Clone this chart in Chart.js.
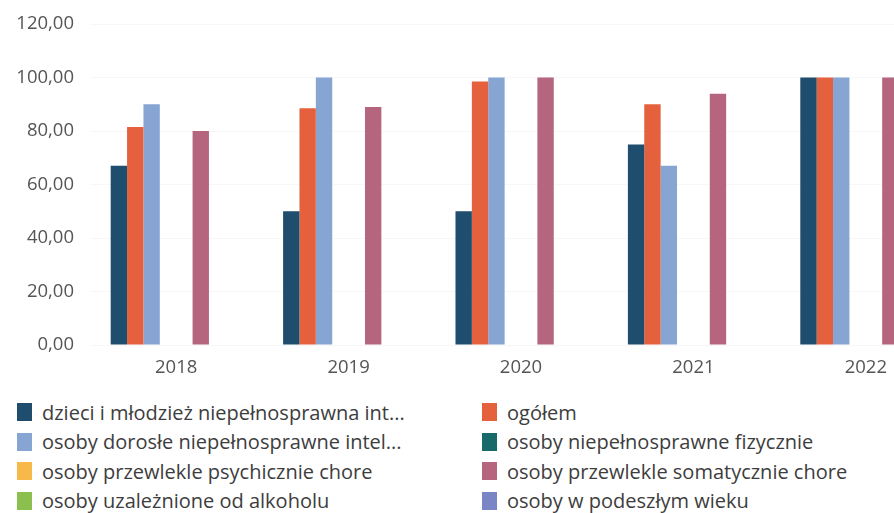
<!DOCTYPE html>
<html>
<head>
<meta charset="utf-8">
<script src="https://cdn.jsdelivr.net/npm/chart.js@4"></script>
<style>
  html, body { margin: 0; padding: 0; background: #fff; overflow: hidden; }
  body { width: 894px; height: 513px; position: relative; font-family: 'Open Sans', sans-serif; }
  #wrap { position: absolute; left: 0; top: -3px; width: 952px; height: 388px; }
  #legend { position: absolute; left: 17px; top: 398px; width: 880px; }
  .item { position: absolute; display: flex; align-items: center; font-size: 20px; color: #3d3d3d; white-space: nowrap; height: 28px; }
  .sw { width: 15px; height: 18px; margin-right: 10px; }
</style>
</head>
<body>
<div id="wrap"><canvas id="myChart"></canvas></div>
<div id="legend"></div>
<script>
const years = ['2018', '2019', '2020', '2021', '2022'];
const seriesNames = [
    'dzieci i młodzież niepełnosprawna int...',
    'ogółem',
    'osoby dorosłe niepełnosprawne intel...',
    'osoby niepełnosprawne fizycznie',
    'osoby przewlekle psychicznie chore',
    'osoby przewlekle somatycznie chore',
    'osoby uzależnione od alkoholu',
    'osoby w podeszłym wieku'
];
const dzieci = [67, 50, 50, 75, 100];
const ogolem = [81.5, 88.5, 98.5, 90, 100];
const dorosle = [90, 100, 100, 67, 100];
const fizycznie = [0, 0, 0, 0, 0];
const psychicznie = [0, 0, 0, 0, 0];
const somatycznie = [80, 89, 100, 94, 100];
const alkohol = [0, 0, 0, 0, 0];
const wiek = [0, 0, 0, 0, 0];
const yTicks = [0, 20, 40, 60, 80, 100, 120];

const colors = ['#1f4d6d', '#e5603d', '#87a5d3', '#17696a', '#f6b94a', '#b6657f', '#8cc04e', '#7a85c6'];
const values = [dzieci, ogolem, dorosle, fizycznie, psychicznie, somatycznie, alkohol, wiek];

const ctx = document.getElementById('myChart').getContext('2d');
const myChart = new Chart(ctx, {
    type: 'bar',
    data: {
        labels: years,
        datasets: seriesNames.map((name, i) => ({
            label: name,
            data: values[i],
            backgroundColor: colors[i],
            borderWidth: 0,
            categoryPercentage: 0.76,
            barPercentage: 1
        }))
    },
    options: {
        responsive: true,
        maintainAspectRatio: false,
        animation: false,
        layout: { padding: { top: 10, right: 0 } },
        plugins: {
            legend: { display: false },
            tooltip: { enabled: false }
        },
        scales: {
            x: {
                grid: { display: false },
                border: { display: false },
                ticks: { color: '#555', font: { family: 'Open Sans', size: 18.5 }, padding: 4 },
                afterFit: (scale) => { scale.height = 40; }
            },
            y: {
                min: 0,
                max: 120,
                afterBuildTicks: (scale) => { scale.ticks = yTicks.map(v => ({ value: v })); },
                grid: { color: '#f7f7f7', drawTicks: false },
                border: { display: false },
                ticks: {
                    color: '#555',
                    font: { family: 'Open Sans', size: 18.5 },
                    padding: 16,
                    callback: (v) => v.toFixed(2).replace('.', ',')
                },
                afterFit: (scale) => { scale.width = 90; }
            }
        }
    }
});

// legend in two fixed columns
const legend = document.getElementById('legend');
seriesNames.forEach((name, i) => {
    const el = document.createElement('div');
    el.className = 'item';
    el.style.left = (i % 2 ? 465 : 0) + 'px';
    el.style.top = (Math.floor(i / 2) * 29.5) + 'px';
    el.innerHTML = '<span class="sw" style="background:' + colors[i] + '"></span>' + name;
    legend.appendChild(el);
});
</script>
</body>
</html>
